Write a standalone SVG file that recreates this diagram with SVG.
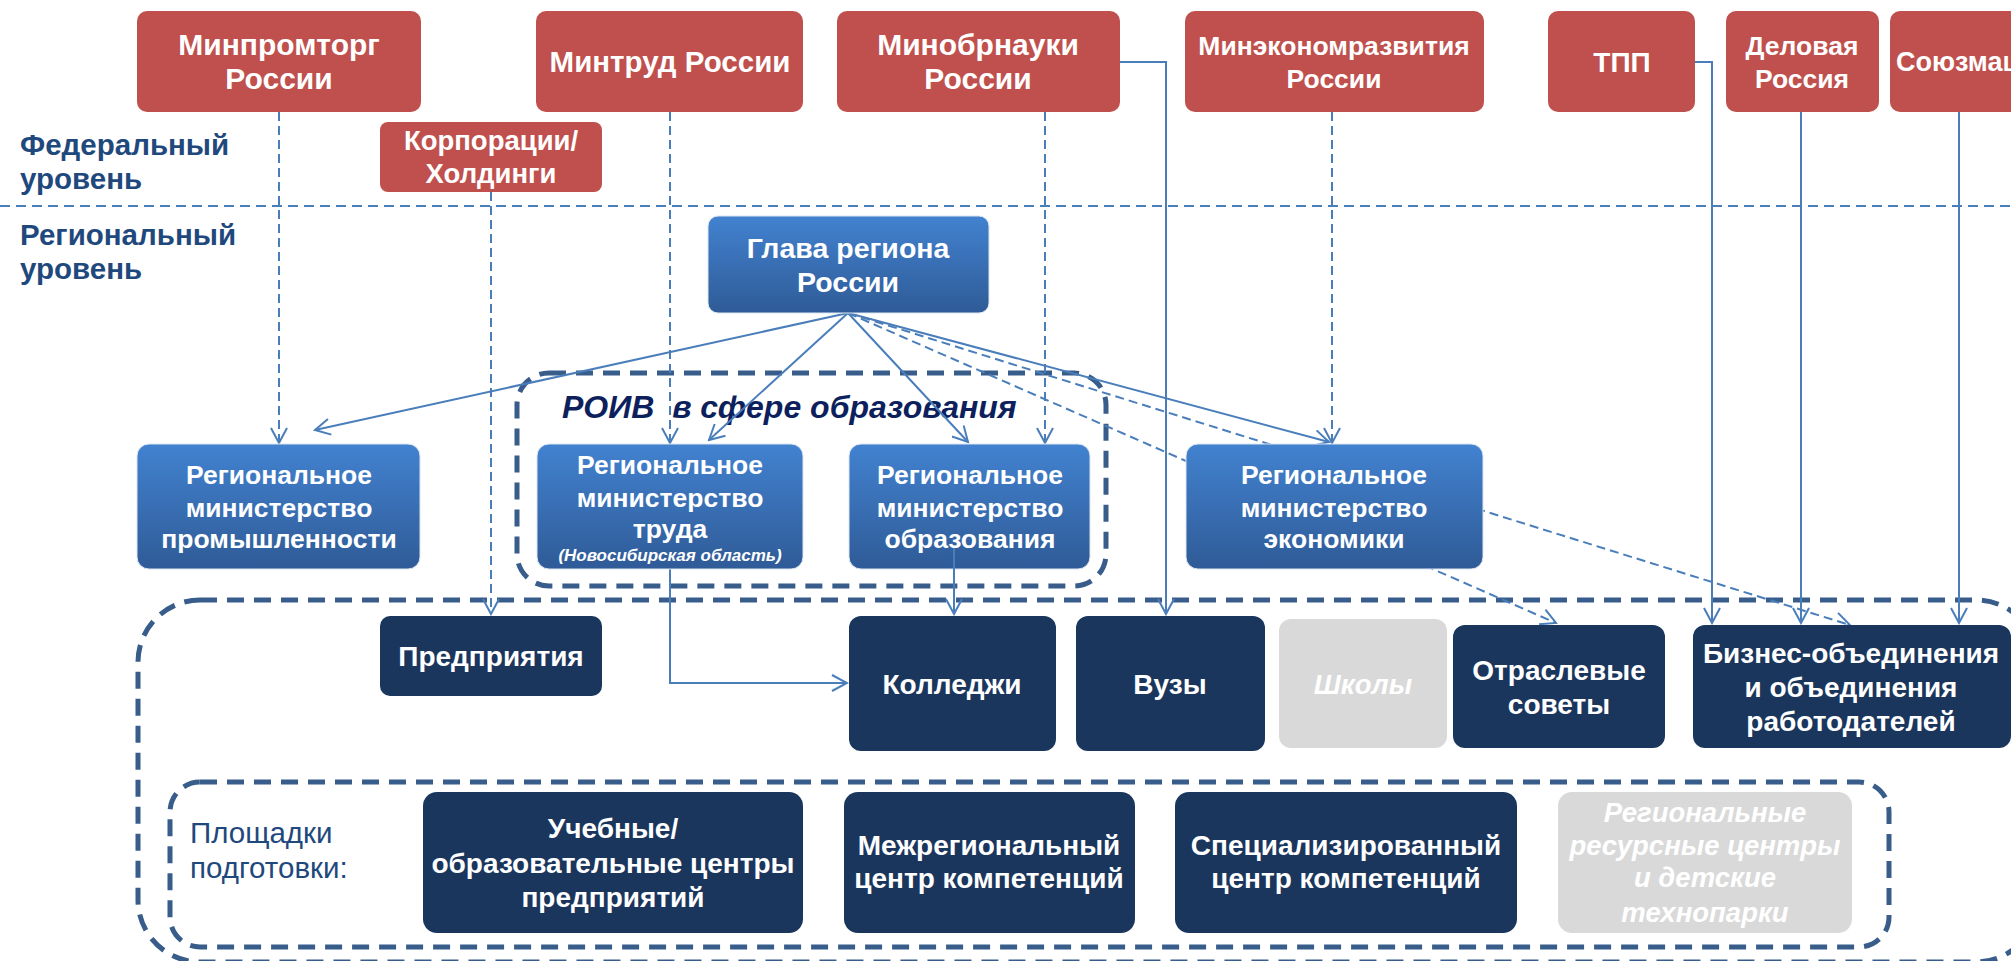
<svg xmlns="http://www.w3.org/2000/svg" width="2011" height="961" viewBox="0 0 2011 961">
<defs>
<linearGradient id="blueGrad" x1="0" y1="0" x2="0" y2="1">
<stop offset="0" stop-color="#4282d0"/>
<stop offset="1" stop-color="#2f5b97"/>
</linearGradient>
<marker id="arr" viewBox="0 0 18 18" refX="16" refY="9" markerWidth="18" markerHeight="18" markerUnits="userSpaceOnUse" orient="auto">
<path d="M1,1 L16,9 L1,17" fill="none" stroke="#4a7ebb" stroke-width="2"/>
</marker>
</defs>
<style>
text{font-family:"Liberation Sans",Arial,sans-serif;font-weight:bold;text-anchor:middle;fill:#fff}
.red{fill:#c0504d}
.blue{fill:url(#blueGrad);stroke:#dce6f2;stroke-width:1}
.navy{fill:#1b365d}
.grey{fill:#d9d9d9}
.grp{fill:none;stroke:#385d8a;stroke-width:5;stroke-dasharray:17 10}
.sep{fill:none;stroke:#4a7ebb;stroke-width:2;stroke-dasharray:10 6}
.c{fill:none;stroke:#4a7ebb;stroke-width:2}
.d{fill:none;stroke:#4a7ebb;stroke-width:2;stroke-dasharray:9 5}
.lbl{fill:#1f497d;text-anchor:start;font-size:29.5px}
.t30{font-size:30px}
.t28{font-size:28px}
.t27{font-size:27.5px}
.t26{font-size:26.5px}
.it{font-style:italic}
</style>
<rect width="2011" height="961" fill="#fff"/>

<g id="levels">
<text class="lbl" x="20" y="155">Федеральный</text>
<text class="lbl" x="20" y="189">уровень</text>
<line class="sep" x1="0" y1="206" x2="2011" y2="206"/>
<text class="lbl" x="20" y="245">Региональный</text>
<text class="lbl" x="20" y="279">уровень</text>
</g>

<g id="group-roiv">
<rect class="grp" x="517" y="373" width="589" height="213" rx="32"/>
<text class="it" x="562" y="418" style="fill:#0d1f5c;text-anchor:start;font-size:32px">РОИВ&#160; в сфере образования</text>
</g>
<g id="group-outer">
<rect class="grp" x="138" y="600" width="1900" height="362" rx="62"/>
</g>
<g id="group-sites">
<rect class="grp" x="170" y="782" width="1719" height="165" rx="30"/>
<text x="190" y="843" style="fill:#1f497d;text-anchor:start;font-weight:normal;font-size:29.5px">Площадки</text>
<text x="190" y="878" style="fill:#1f497d;text-anchor:start;font-weight:normal;font-size:29.5px">подготовки:</text>
</g>

<g id="connectors">
<line class="d" x1="279" y1="112" x2="279" y2="443" marker-end="url(#arr)"/>
<line class="d" x1="491" y1="192" x2="491" y2="614" marker-end="url(#arr)"/>
<line class="d" x1="670" y1="112" x2="670" y2="443" marker-end="url(#arr)"/>
<line class="d" x1="1045" y1="112" x2="1045" y2="443" marker-end="url(#arr)"/>
<line class="d" x1="1332" y1="112" x2="1332" y2="443" marker-end="url(#arr)"/>
<line class="d" x1="848" y1="313" x2="1556" y2="623" marker-end="url(#arr)"/>
<line class="d" x1="848" y1="313" x2="1850" y2="625" marker-end="url(#arr)"/>
<path class="c" d="M1120,62 H1166 V614" marker-end="url(#arr)"/>
<path class="c" d="M1695,62 H1712 V623" marker-end="url(#arr)"/>
<line class="c" x1="1801" y1="112" x2="1801" y2="623" marker-end="url(#arr)"/>
<line class="c" x1="1959" y1="112" x2="1959" y2="623" marker-end="url(#arr)"/>
<line class="c" x1="848" y1="313" x2="315" y2="430" marker-end="url(#arr)"/>
<line class="c" x1="848" y1="313" x2="709" y2="440" marker-end="url(#arr)"/>
<line class="c" x1="848" y1="313" x2="968" y2="442" marker-end="url(#arr)"/>
<line class="c" x1="848" y1="313" x2="1329" y2="442" marker-end="url(#arr)"/>
<path class="c" d="M670,569 V683 H847" marker-end="url(#arr)"/>
</g>

<g id="n-minprom"><rect class="red" x="137" y="11" width="284" height="101" rx="10"/><text class="t30" x="279" y="55">Минпромторг</text><text class="t30" x="279" y="89">России</text></g>
<g id="n-mintrud"><rect class="red" x="536" y="11" width="267" height="101" rx="10"/><text x="670" y="72" style="font-size:29.5px">Минтруд России</text></g>
<g id="n-minobr"><rect class="red" x="837" y="11" width="283" height="101" rx="10"/><text class="t30" x="978" y="55">Минобрнауки</text><text class="t30" x="978" y="89">России</text></g>
<g id="n-minek"><rect class="red" x="1185" y="11" width="299" height="101" rx="10"/><text class="t26" x="1334" y="55">Минэкономразвития</text><text class="t26" x="1334" y="88">России</text></g>
<g id="n-tpp"><rect class="red" x="1548" y="11" width="147" height="101" rx="10"/><text class="t28" x="1622" y="72">ТПП</text></g>
<g id="n-delros"><rect class="red" x="1726" y="11" width="153" height="101" rx="10"/><text class="t26" x="1802" y="55">Деловая</text><text class="t26" x="1802" y="88">Россия</text></g>
<g id="n-soyuz"><rect class="red" x="1890" y="11" width="160" height="101" rx="10"/><text x="1896" y="71" style="text-anchor:start;font-size:27px">Союзмаш</text></g>
<g id="n-corp"><rect class="red" x="380" y="122" width="222" height="70" rx="8"/><text class="t27" x="491" y="150">Корпорации/</text><text class="t27" x="491" y="183">Холдинги</text></g>

<g id="n-glava"><rect class="blue" x="708" y="216" width="281" height="97" rx="10"/><text x="848" y="258" style="font-size:28.5px">Глава региона</text><text x="848" y="292" style="font-size:28.5px">России</text></g>
<g id="n-rmprom"><rect class="blue" x="137" y="444" width="283" height="125" rx="12"/><text class="t26" x="279" y="484">Региональное</text><text class="t26" x="279" y="517">министерство</text><text class="t26" x="279" y="548">промышленности</text></g>
<g id="n-rmtrud"><rect class="blue" x="537" y="444" width="266" height="125" rx="12"/><text class="t26" x="670" y="474">Региональное</text><text class="t26" x="670" y="507">министерство</text><text class="t26" x="670" y="538">труда</text><text class="it" x="670" y="561" style="font-size:17px">(Новосибирская область)</text></g>
<g id="n-rmobr"><rect class="blue" x="849" y="444" width="241" height="125" rx="12"/><text class="t26" x="970" y="484">Региональное</text><text class="t26" x="970" y="517">министерство</text><text class="t26" x="970" y="548">образования</text></g>
<g id="n-rmek"><rect class="blue" x="1186" y="444" width="297" height="125" rx="12"/><text class="t26" x="1334" y="484">Региональное</text><text class="t26" x="1334" y="517">министерство</text><text class="t26" x="1334" y="548">экономики</text></g>

<g id="c-obr-col"><line class="c" x1="954" y1="548" x2="954" y2="614" marker-end="url(#arr)"/></g>

<g id="n-pred"><rect class="navy" x="380" y="616" width="222" height="80" rx="10"/><text class="t28" x="491" y="666">Предприятия</text></g>
<g id="n-coll"><rect class="navy" x="849" y="616" width="207" height="135" rx="12"/><text class="t28" x="952" y="694">Колледжи</text></g>
<g id="n-vuz"><rect class="navy" x="1076" y="616" width="189" height="135" rx="12"/><text class="t28" x="1170" y="694">Вузы</text></g>
<g id="n-school"><rect class="grey" x="1279" y="619" width="168" height="129" rx="12"/><text class="t27 it" x="1363" y="694">Школы</text></g>
<g id="n-otr"><rect class="navy" x="1453" y="625" width="212" height="123" rx="12"/><text class="t28" x="1559" y="680">Отраслевые</text><text class="t28" x="1559" y="714">советы</text></g>
<g id="n-biz"><rect class="navy" x="1693" y="625" width="318" height="123" rx="12"/><text class="t28" x="1851" y="663">Бизнес-объединения</text><text class="t28" x="1851" y="697">и объединения</text><text class="t28" x="1851" y="731">работодателей</text></g>

<g id="n-uch"><rect class="navy" x="423" y="792" width="380" height="141" rx="14"/><text class="t28" x="613" y="838">Учебные/</text><text class="t28" x="613" y="873">образовательные центры</text><text class="t28" x="613" y="907">предприятий</text></g>
<g id="n-mezh"><rect class="navy" x="844" y="792" width="291" height="141" rx="14"/><text class="t28" x="989" y="855">Межрегиональный</text><text class="t28" x="989" y="888">центр компетенций</text></g>
<g id="n-spec"><rect class="navy" x="1175" y="792" width="342" height="141" rx="14"/><text class="t28" x="1346" y="855">Специализированный</text><text class="t28" x="1346" y="888">центр компетенций</text></g>
<g id="n-resurs"><rect class="grey" x="1558" y="792" width="294" height="141" rx="14"/><text class="t27 it" x="1705" y="822">Региональные</text><text class="t27 it" x="1705" y="855">ресурсные центры</text><text class="t27 it" x="1705" y="887">и детские</text><text class="t27 it" x="1705" y="922">технопарки</text></g>
</svg>
